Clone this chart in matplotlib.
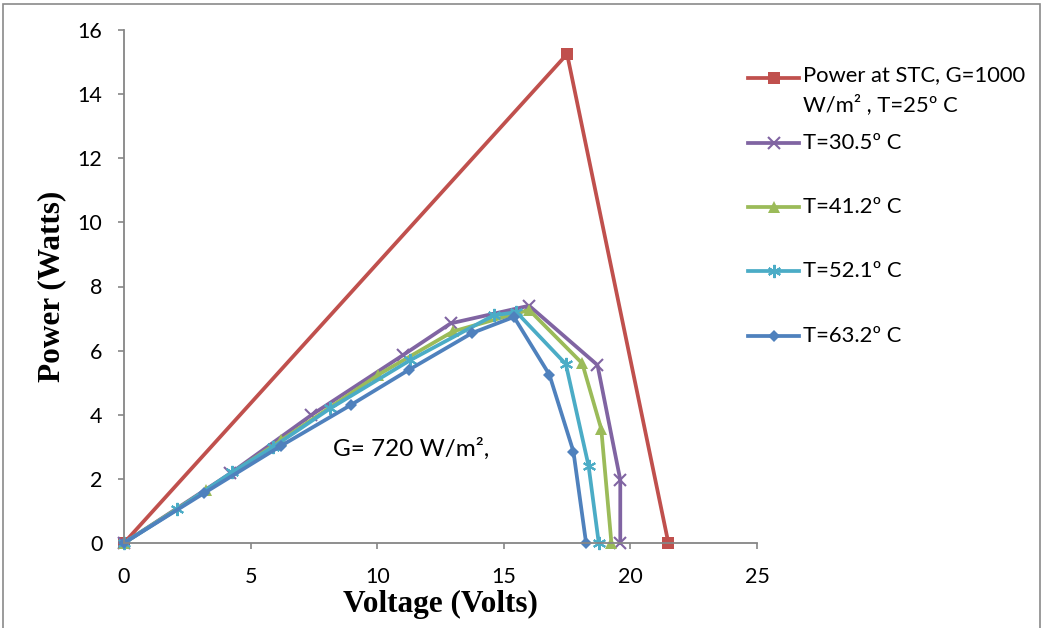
import matplotlib
matplotlib.use("Agg")
import matplotlib.pyplot as plt
from matplotlib.lines import Line2D
from matplotlib.patches import Rectangle

# Power-voltage curves of the PV module
stc_v = [0, 17.5, 21.5]
stc_p = [0, 15.25, 0]

t305_v = [0, 4.2, 7.4, 11.0, 12.9, 16.0, 18.7, 19.6, 19.6]
t305_p = [0, 2.17, 3.99, 5.85, 6.85, 7.4, 5.55, 1.97, 0]

t412_v = [0, 3.25, 6.2, 10.05, 13.0, 16.0, 18.1, 18.85, 19.25]
t412_p = [0, 1.65, 3.2, 5.25, 6.6, 7.27, 5.6, 3.55, 0]

t521_v = [0, 2.1, 4.25, 5.9, 8.15, 11.3, 14.6, 15.5, 17.45, 18.35, 18.75]
t521_p = [0, 1.05, 2.2, 3.0, 4.2, 5.7, 7.1, 7.2, 5.58, 2.4, 0]

t632_v = [0, 3.15, 6.2, 8.95, 11.25, 13.75, 15.4, 16.8, 17.75, 18.25]
t632_p = [0, 1.55, 3.03, 4.3, 5.4, 6.55, 7.05, 5.25, 2.85, 0]

labels = ["Power at STC, G=1000\nW/m² , T=25º C", "T=30.5º C", "T=41.2º C",
          "T=52.1º C", "T=63.2º C"]
x_ticks = [0, 5, 10, 15, 20, 25]
y_ticks = [0, 2, 4, 6, 8, 10, 12, 14, 16]

colors = ["#C0504D", "#8064A2", "#9BBB59", "#4BACC6", "#4F81BD"]
styles = [dict(marker="s", markersize=9, markeredgewidth=0),
          dict(marker="x", markersize=9, markeredgewidth=1.5),
          dict(marker="^", markersize=8.5, markeredgewidth=0),
          dict(marker=(6, 2, 0), markersize=9.5, markeredgewidth=1.5),
          dict(marker="D", markersize=6.5, markeredgewidth=0)]

tick_font = "Lato"
label_font = "Liberation Serif"
axis_gray = "#868686"

fig = plt.figure(figsize=(10.44, 6.28), dpi=100)
ax = fig.add_axes([124 / 1044, 85 / 628, 633 / 1044, 513 / 628])

series = [(stc_v, stc_p), (t305_v, t305_p), (t412_v, t412_p),
          (t521_v, t521_p), (t632_v, t632_p)]
for (v, p), c, st in zip(series, colors, styles):
    ax.plot(v, p, color=c, linewidth=2.7, markerfacecolor=c,
            markeredgecolor=c, clip_on=False, **st)

ax.set_xlim(0, 25)
ax.set_ylim(0, 16)
ax.set_xticks(x_ticks)
ax.set_yticks(y_ticks)
for s in ["top", "right"]:
    ax.spines[s].set_visible(False)
for s in ["left", "bottom"]:
    ax.spines[s].set_color(axis_gray)
    ax.spines[s].set_linewidth(1.3)
ax.tick_params(axis="both", direction="out", length=4.5, width=1.2,
               color=axis_gray, labelsize=15.5)
ax.tick_params(axis="y", pad=11)
ax.tick_params(axis="x", pad=13)
for lab in ax.get_xticklabels() + ax.get_yticklabels():
    lab.set_fontfamily(tick_font)

ax.set_xlabel("Voltage (Volts)", fontfamily=label_font, fontweight="bold",
              fontsize=22.5, labelpad=2)
ax.set_ylabel("Power (Watts)", fontfamily=label_font, fontweight="bold",
              fontsize=22.5, labelpad=8)

ax.text(8.25, 2.93, "G= 720 W/m²,", fontfamily=tick_font, fontsize=17.5,
        ha="left", va="center")

# Legend entries placed to the right of the plot area
leg_rows = [78, 143, 207, 271, 336]
for row, lab, c, st in zip(leg_rows, labels, colors, styles):
    yf = 1 - row / 628
    fig.add_artist(Line2D([748 / 1044, 799 / 1044], [yf, yf],
                          transform=fig.transFigure, color=c, linewidth=2.7))
    fig.add_artist(Line2D([773.5 / 1044], [yf], transform=fig.transFigure,
                          color=c, markerfacecolor=c, markeredgecolor=c,
                          linestyle="none", **st))
    if "\n" in lab:
        fig.text(803 / 1044, yf + 13 / 628, lab, fontfamily=tick_font,
                 fontsize=15.8, ha="left", va="top", linespacing=1.55)
    else:
        fig.text(803 / 1044, yf, lab, fontfamily=tick_font, fontsize=15.8,
                 ha="left", va="center")

# Chart frame
fig.add_artist(Rectangle((3 / 1044, -0.05), 1037 / 1044, 1.05 - 4 / 628,
                         transform=fig.transFigure, fill=False,
                         edgecolor="#8a8a8a", linewidth=1.2))

fig.savefig("out.png", dpi=100)
